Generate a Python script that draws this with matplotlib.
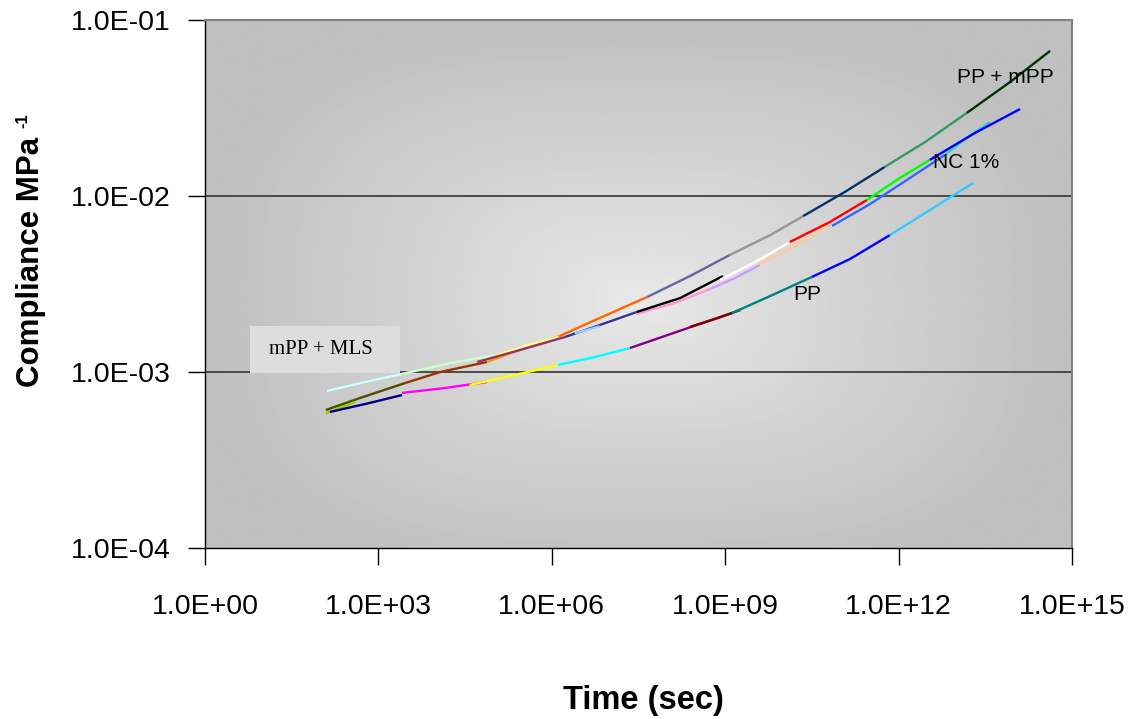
import numpy as np
import matplotlib
matplotlib.use("Agg")
import matplotlib.pyplot as plt
from matplotlib.patches import Rectangle

plt.rcParams['font.family'] = ['Liberation Sans', 'DejaVu Sans']

# master curves, each made of short coloured segments
# values are log10(time in s) and log10(compliance in 1/MPa)
pp_mpp_logt = [[2.09, 2.68, 3.46], [2.09, 2.60], [3.46, 4.07, 4.88], [4.88, 5.62, 6.14],
               [6.14, 6.83, 7.65], [7.65, 8.39, 9.08], [9.08, 9.78, 10.35],
               [10.35, 11.07, 11.76], [11.76, 12.46, 13.18], [13.18, 13.93, 14.62]]
pp_mpp_logc = [[-3.216, -3.148, -3.063], [-3.235, -3.170], [-3.063, -3.000, -2.943],
               [-2.943, -2.852, -2.795], [-2.795, -2.693, -2.574], [-2.574, -2.455, -2.335],
               [-2.335, -2.222, -2.114], [-2.114, -1.977, -1.835], [-1.835, -1.693, -1.528],
               [-1.528, -1.352, -1.176]]
pp_mpp_colors = ['#4d4d00', '#99cc00', '#993300', '#ff9900', '#ff6600', '#666699',
                 '#969696', '#003366', '#339966', '#003300']

mls_logt = [[2.11, 2.77, 3.41], [3.41, 4.24, 5.05], [5.05, 5.71, 6.11]]
mls_logc = [[-3.108, -3.057, -3.011], [-3.011, -2.949, -2.903], [-2.903, -2.835, -2.801]]
mls_colors = ['#ccffff', '#ccffcc', '#ffff99']

nc_logt = [[4.71, 5.45, 6.23], [6.23, 6.83, 7.47], [6.40, 6.83], [7.47, 8.13, 8.74],
           [7.47, 8.22, 8.96], [8.74, 9.17, 9.60], [8.91, 9.52, 10.09], [9.60, 10.21, 10.81],
           [10.12, 10.81, 11.45], [10.85, 11.51, 12.25, 12.80], [12.80, 13.18, 13.58],
           [11.45, 12.02, 12.54], [12.54, 13.32, 14.10]]
nc_logc = [[-2.943, -2.875, -2.801], [-2.801, -2.733, -2.659], [-2.780, -2.740],
           [-2.670, -2.608, -2.528], [-2.659, -2.580, -2.455], [-2.528, -2.466, -2.392],
           [-2.477, -2.375, -2.267], [-2.386, -2.284, -2.170], [-2.261, -2.148, -2.023],
           [-2.170, -2.045, -1.886, -1.767], [-1.767, -1.670, -1.580],
           [-2.023, -1.898, -1.795], [-1.795, -1.642, -1.506]]
nc_colors = ['#993366', '#333399', '#99ccff', '#ff99cc', '#000000', '#cc99ff', '#ffffff',
             '#ffcc99', '#ff0000', '#3366ff', '#33cccc', '#00ff00', '#0000ff']

pp_logt = [[2.16, 2.77, 3.41], [3.41, 4.15, 4.88], [4.58, 5.28, 6.11], [6.11, 6.75, 7.35],
           [7.35, 7.96, 8.56, 9.12], [8.39, 8.82, 9.26], [9.12, 9.78, 10.50],
           [10.50, 11.16, 11.85], [11.85, 12.54, 13.29]]
pp_logc = [[-3.227, -3.182, -3.131], [-3.119, -3.091, -3.057], [-3.074, -3.023, -2.960],
           [-2.960, -2.915, -2.864], [-2.864, -2.795, -2.727, -2.665], [-2.744, -2.699, -2.648],
           [-2.665, -2.568, -2.460], [-2.460, -2.358, -2.222], [-2.222, -2.080, -1.926]]
pp_colors = ['#000080', '#ff00ff', '#ffff00', '#00ffff', '#800080', '#800000', '#008080',
             '#0000ff', '#33ccff']

x_ticks = [1e0, 1e3, 1e6, 1e9, 1e12, 1e15]
x_labels = ['1.0E+00', '1.0E+03', '1.0E+06', '1.0E+09', '1.0E+12', '1.0E+15']
y_ticks = [1e-4, 1e-3, 1e-2, 1e-1]
y_labels = ['1.0E-04', '1.0E-03', '1.0E-02', '1.0E-01']
grid_levels = [1e-3, 1e-2]

W, H = 1141, 719
fig = plt.figure(figsize=(W / 100, H / 100), dpi=100)
fig.patch.set_facecolor('white')

# plot area in pixels: x 205..1072, y 20..548
pos = [205 / W, 1 - 548 / H, 867 / W, 528 / H]

# grey radial background behind the plot
bg = fig.add_axes(pos, zorder=0)
u, v = np.meshgrid(np.linspace(0, 1, 400), np.linspace(0, 1, 300))
du = np.abs(u - 0.5) / 0.5
dv = np.abs(v - 0.47) / 0.53
r = np.clip((du ** 3 + dv ** 3) ** (1 / 3), 0, 1)
shade = 0.915 - (0.915 - 0.75) * r ** 0.9
bg.imshow(shade, cmap='gray', vmin=0, vmax=1, extent=[0, 1, 0, 1],
          origin='lower', aspect='auto', interpolation='bilinear')
bg.axis('off')

ax = fig.add_axes(pos, zorder=1)
ax.patch.set_alpha(0)
ax.set_xscale('log')
ax.set_yscale('log')

for lvl in grid_levels:
    ax.axhline(lvl, color='#404040', lw=1.3, zorder=1)

for logts, logcs, cols in [(pp_mpp_logt, pp_mpp_logc, pp_mpp_colors),
                           (mls_logt, mls_logc, mls_colors),
                           (nc_logt, nc_logc, nc_colors),
                           (pp_logt, pp_logc, pp_colors)]:
    for lt, lc, col in zip(logts, logcs, cols):
        ax.plot(10 ** np.array(lt), 10 ** np.array(lc), color=col, lw=1.7,
                solid_capstyle='butt', zorder=3)

ax.set_xlim(1e0, 1e15)
ax.set_ylim(1e-4, 1e-1)
ax.set_xticks(x_ticks)
ax.set_xticklabels(x_labels)
ax.set_yticks(y_ticks)
ax.set_yticklabels(y_labels)
ax.minorticks_off()
ax.tick_params(axis='both', direction='out', length=12, width=1, labelsize=20.5, color='black')
ax.tick_params(axis='x', pad=21)
ax.tick_params(axis='y', pad=13)

for side in ['top', 'right']:
    ax.spines[side].set_color('#808080')
    ax.spines[side].set_linewidth(1.5)
for side in ['left', 'bottom']:
    ax.spines[side].set_color('black')
    ax.spines[side].set_linewidth(1.0)

# curve labels
ax.text(10 ** 13.01, 10 ** -1.324, 'PP + mPP', fontsize=15, va='center', ha='left', zorder=4)
ax.text(10 ** 12.60, 10 ** -1.8125, 'NC 1%', fontsize=15, va='center', ha='left', zorder=4)
ax.text(10 ** 10.17, 10 ** -2.5625, 'PP', fontsize=15, va='center', ha='left', zorder=4)

# boxed label on the left
ax.add_patch(Rectangle((10 ** 0.78, 10 ** -3.006), 10 ** 3.37 - 10 ** 0.78,
                       10 ** -2.739 - 10 ** -3.006, facecolor='#dddddd',
                       edgecolor='none', zorder=4))
ax.text(10 ** 1.107, 10 ** -2.875, 'mPP + MLS', fontsize=15, va='center', ha='left',
        family=['Liberation Serif', 'DejaVu Serif'], zorder=5)

# axis titles
fig.text(31 / W, 1 - 262 / H, 'Compliance MPa', rotation=90, fontsize=22.5,
         fontweight='bold', ha='center', va='center')
fig.text(23 / W, 1 - 121 / H, '-1', rotation=90, fontsize=12,
         fontweight='bold', ha='center', va='center')
fig.text(643 / W, 1 - 700 / H, 'Time (sec)', fontsize=23.5, fontweight='bold',
         ha='center', va='center')

fig.savefig('out.png', dpi=100)
